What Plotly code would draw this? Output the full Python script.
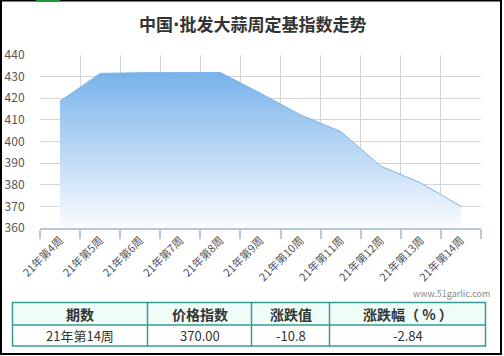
import plotly.graph_objects as go

categories = ["21年第4周", "21年第5周", "21年第6周", "21年第7周", "21年第8周", "21年第9周",
              "21年第10周", "21年第11周", "21年第12周", "21年第13周", "21年第14周"]
index_values = [418.6, 431.5, 431.8, 431.9, 431.9, 422.3, 412.3, 404.6, 388.6, 380.8, 370.0]
y_ticks = [360, 370, 380, 390, 400, 410, 420, 430, 440]

table_header = ["期数", "价格指数", "涨跌值", "涨跌幅（ % ）"]
table_row = ["21年第14周", "370.00", "-10.8", "-2.84"]
title_parts = ["中国", "·", "批发大蒜周定基指数走势"]
watermark = "www.51garlic.com"

W, H = 504, 356
L, R, T, B = 40, 481, 55, 228
FONT = "Noto Sans CJK SC"


def px(x):
    return (x - L) / (R - L)


def py(y):
    return (B - y) / (B - T)


fig = go.Figure()
fig.add_trace(go.Scatter(
    x=categories, y=index_values, mode="lines",
    line=dict(color="#7ab4ea", width=1),
    fill="tozeroy",
    fillgradient=dict(type="vertical", start=360, stop=432,
                      colorscale=[[0, "rgba(250,252,255,1)"], [1, "rgba(120,178,234,1)"]]),
    hoverinfo="skip", showlegend=False,
))

shapes = []
# outer border
shapes.append(dict(type="rect", xref="paper", yref="paper", x0=px(1), x1=px(501), y0=py(0.5), y1=py(354),
                   line=dict(color="#000", width=2), layer="above"))
shapes.append(dict(type="line", xref="paper", yref="paper", x0=px(36), x1=px(60), y0=py(1), y1=py(1),
                   line=dict(color="#1e9a2e", width=2)))
# table
cols = [12.5, 147.5, 251.5, 329.5, 485.5]
ty0, tym, ty1 = 302.5, 325, 346
shapes.append(dict(type="rect", xref="paper", yref="paper", x0=px(cols[0]), x1=px(cols[-1]),
                   y0=py(ty0), y1=py(tym), fillcolor="#effdf9", line=dict(width=0)))
shapes.append(dict(type="rect", xref="paper", yref="paper", x0=px(cols[0]), x1=px(cols[-1]),
                   y0=py(ty0), y1=py(ty1), line=dict(color="#3a9a94", width=1.5)))
shapes.append(dict(type="line", xref="paper", yref="paper", x0=px(cols[0]), x1=px(cols[-1]),
                   y0=py(tym), y1=py(tym), line=dict(color="#3a9a94", width=1.5)))
for c in cols[1:-1]:
    shapes.append(dict(type="line", xref="paper", yref="paper", x0=px(c), x1=px(c),
                       y0=py(ty0), y1=py(ty1), line=dict(color="#3a9a94", width=1.5)))

title_html = ("<b>" + title_parts[0] + "<span style='font-family:DejaVu Sans'>" + title_parts[1]
              + "</span>" + title_parts[2] + "</b>")

annotations = []
annotations.append(dict(text=title_html, xref="paper", yref="paper",
                        x=px(252), y=py(23), showarrow=False, xanchor="center", yanchor="middle",
                        font=dict(family=FONT, size=17, color="#333")))
annotations.append(dict(text=watermark, xref="paper", yref="paper", x=px(492), y=py(293),
                        showarrow=False, xanchor="right", yanchor="middle",
                        font=dict(family=FONT, size=9, color="#888")))
for i in range(4):
    cx = (cols[i] + cols[i + 1]) / 2
    annotations.append(dict(text="<b>" + table_header[i] + "</b>", xref="paper", yref="paper",
                            x=px(cx), y=py((ty0 + tym) / 2), showarrow=False,
                            xanchor="center", yanchor="middle",
                            font=dict(family=FONT, size=14, color="#333")))
    annotations.append(dict(text=table_row[i], xref="paper", yref="paper",
                            x=px(cx), y=py((tym + ty1) / 2), showarrow=False,
                            xanchor="center", yanchor="middle",
                            font=dict(family=FONT, size=13, color="#333")))

fig.update_layout(
    width=W, height=H,
    margin=dict(l=L, r=W - R, t=T, b=H - B, autoexpand=False),
    paper_bgcolor="white", plot_bgcolor="white",
    shapes=shapes, annotations=annotations,
    font=dict(family=FONT),
    xaxis=dict(type="category", range=[-0.5, 10.5], tickson="boundaries", automargin=False,
               showgrid=True, gridcolor="#d4d4d4", gridwidth=1,
               showline=True, linecolor="#b8c8d8", linewidth=1.5,
               ticks="outside", ticklen=9, tickcolor="#b8c8d8", tickwidth=1.5,
               tickangle=-45, tickfont=dict(family=FONT, size=11, color="#555"),
               fixedrange=True),
    yaxis=dict(range=[360, 440], tickvals=y_ticks, showgrid=True, gridcolor="#d4d4d4", gridwidth=1,
               zeroline=False, showline=False, automargin=False,
               ticks="outside", ticklen=12, tickcolor="rgba(0,0,0,0)",
               tickfont=dict(family=FONT, size=12, color="#555"), fixedrange=True),
)

fig.write_html("out.html", config={"displayModeBar": False},
               post_script="document.body.style.margin='0';")
